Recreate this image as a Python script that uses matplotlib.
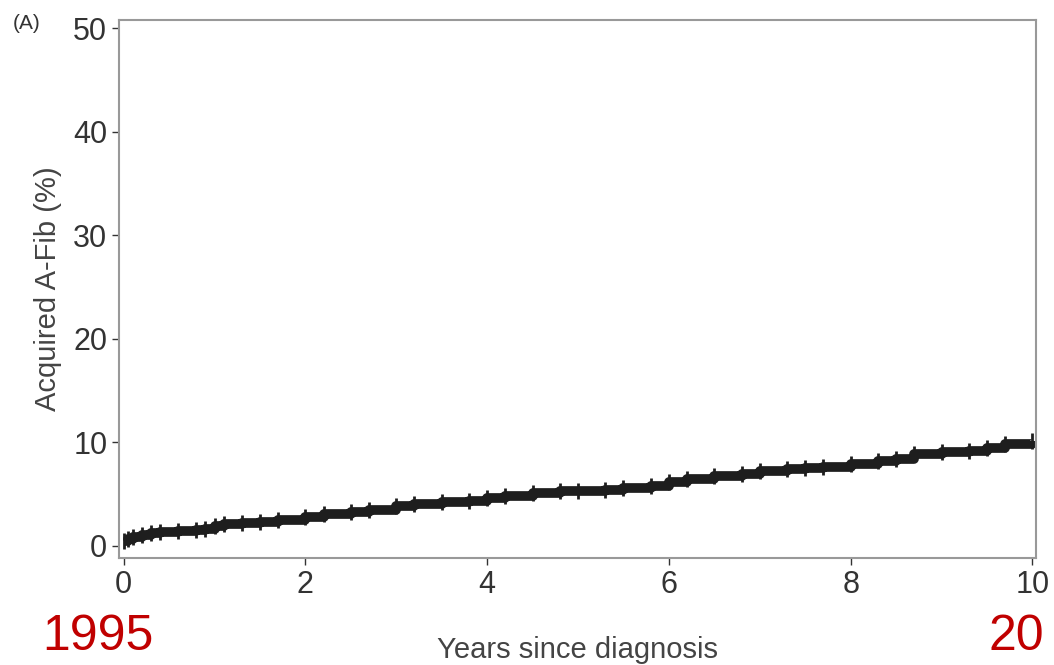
import matplotlib.pyplot as plt

# datos
anios = [0.0, 0.05, 0.1, 0.2, 0.3, 0.4, 0.6, 0.8, 0.9, 1.0, 1.1, 1.3, 1.5, 1.7, 2.0, 2.2,
         2.5, 2.7, 3.0, 3.2, 3.5, 3.8, 4.0, 4.2, 4.5, 4.8, 5.0, 5.3, 5.5, 5.8, 6.0,
         6.2, 6.5, 6.8, 7.0, 7.3, 7.5, 7.7, 8.0, 8.3, 8.5, 8.7, 9.0, 9.3, 9.5, 9.7, 10.0]
afib = [0.4, 0.6, 0.8, 1.0, 1.2, 1.3, 1.4, 1.5, 1.6, 1.9, 2.1, 2.2, 2.3, 2.5, 2.8, 3.0,
        3.2, 3.4, 3.8, 4.0, 4.2, 4.3, 4.6, 4.8, 5.1, 5.3, 5.3, 5.4, 5.6, 5.8, 6.1,
        6.4, 6.7, 6.9, 7.2, 7.4, 7.5, 7.6, 7.9, 8.2, 8.4, 8.8, 9.0, 9.1, 9.4, 9.8, 10.1]

xticks = [0, 2, 4, 6, 8, 10]
yticks = [0, 10, 20, 30, 40, 50]

plt.rcParams['font.family'] = ['Liberation Sans', 'DejaVu Sans']

fig = plt.figure(figsize=(10.54, 6.65), dpi=100)
ax = fig.add_axes([0.113, 0.161, 0.870, 0.809])

ax.step(anios, afib, where='post', color='#1e1e1e', linewidth=7, solid_capstyle='butt')
ax.plot(anios, afib, linestyle='none', marker='|', markersize=11, color='#1e1e1e', mew=2)

ax.set_xlim(-0.05, 10.04)
ax.set_ylim(-1.2, 50.8)
ax.set_xticks(xticks)
ax.set_yticks(yticks)
ax.tick_params(labelsize=22, colors='#333333', length=5, width=1, direction='out')
for s in ax.spines.values():
    s.set_color('#999999')
    s.set_linewidth(1.5)

ax.set_ylabel('Acquired A-Fib (%)', fontsize=21, color='#444444', labelpad=8)
ax.set_xlabel('Years since diagnosis', fontsize=21, color='#444444', labelpad=26)

fig.text(0.012, 0.957, '(A)', fontsize=15, color='#333333')
fig.text(0.04, 0.022, '1995', fontsize=36, color='#c00000')
fig.text(0.938, 0.022, '20', fontsize=36, color='#c00000')

plt.savefig('out.png', dpi=100)
